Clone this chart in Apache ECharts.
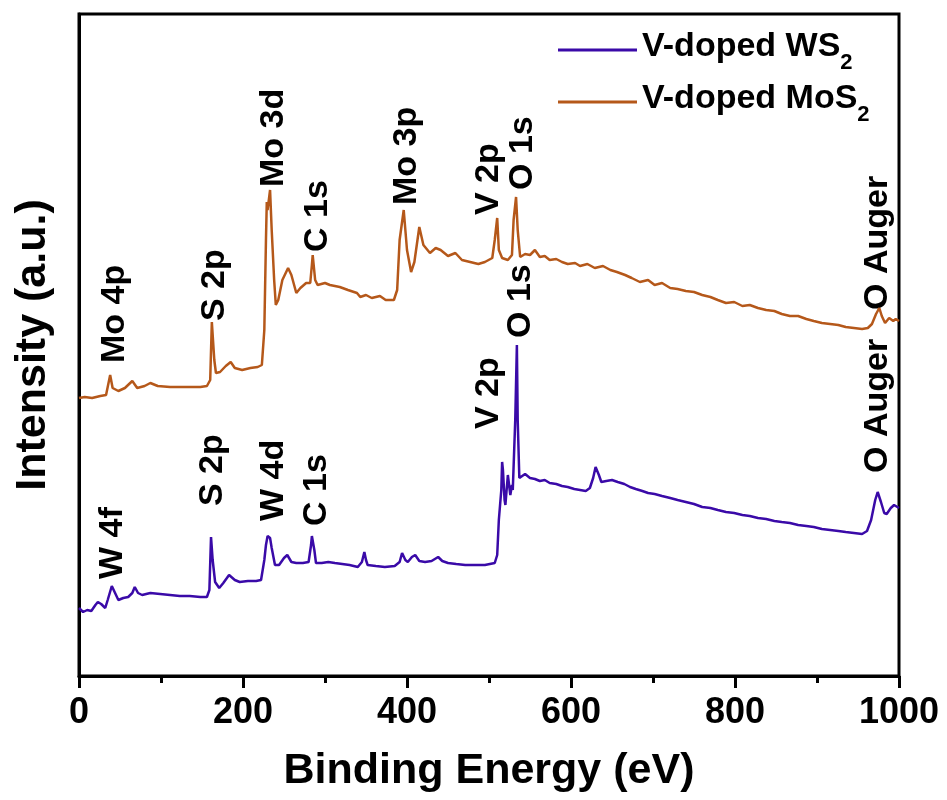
<!DOCTYPE html>
<html>
<head>
<meta charset="utf-8">
<script src="https://cdn.jsdelivr.net/npm/echarts@6/dist/echarts.min.js"></script>
<style>html,body{margin:0;padding:0;background:#fff;}#chart{width:947px;height:800px;}</style>
</head>
<body>
<div id="chart"></div>
<script>
// Binding energy (eV) and intensity (a.u.) — V-doped MoS2
const energyMoS2 = [0,7,16,26,33,38,41,48,56,65,71,80,87,96,111,129,148,156,160,162,165,167,172,179,185,190,199,209,218,223,226,228,229,230,233,235,238,240,243,248,255,259,265,270,277,282,284,285,288,291,300,306,318,328,339,343,350,357,367,374,384,388,391,396,400,405,409,415,420,428,435,441,450,459,467,477,487,495,504,507,510,512,516,523,528,530,533,535,538,544,550,556,562,568,574,582,589,596,605,611,620,629,639,648,656,666,674,684,694,702,711,721,730,740,750,760,770,779,789,799,809,818,828,838,848,857,867,877,887,896,906,916,926,935,945,955,962,967,972,976,979,983,988,993,996,1000];
const intensityMoS2 = [278,279,278,280,281,301,288,285,288,295,288,290,293,290,289,289,289,290,296,354,316,303,304,310,314,308,306,308,309,311,346,436,474,466,486,446,396,371,376,396,408,401,383,388,393,393,411,421,396,391,393,391,389,386,383,379,381,378,380,376,376,386,436,466,426,404,414,449,431,423,428,426,420,423,416,414,412,414,418,436,458,426,418,416,421,456,479,446,419,422,421,426,419,420,416,417,414,412,413,410,412,408,410,406,404,401,398,394,396,391,393,388,387,385,384,381,379,376,373,374,370,371,368,366,365,362,360,360,357,355,353,352,351,349,348,347,348,352,362,368,360,353,358,355,357,355];

// V-doped WS2
const energyWS2 = [0,5,10,15,20,23,27,32,35,40,44,48,54,60,65,68,72,77,87,99,111,123,135,148,156,159,161,163,166,168,171,176,183,190,196,206,216,222,226,228,230,233,235,239,244,250,254,259,265,273,280,283,284,287,289,296,304,312,321,330,340,345,348,350,352,362,373,385,391,394,398,401,406,410,415,422,430,438,443,450,460,471,483,495,507,510,512,515,516,517,519,520,523,526,528,529,532,534,535,537,539,544,550,556,562,568,574,582,589,596,604,611,618,623,627,630,634,637,643,650,657,665,672,679,687,694,702,711,721,730,740,750,760,770,779,789,799,809,818,828,838,848,857,867,877,887,896,906,916,926,935,945,955,961,966,971,974,978,982,985,990,994,998,1000];
const intensityWS2 = [68,64,66,65,71,74,72,68,76,90,83,76,78,79,83,89,83,81,83,82,81,80,80,79,79,86,139,116,94,96,88,93,101,96,94,95,95,96,116,131,140,138,128,111,111,118,121,114,113,113,114,131,140,126,113,113,114,113,112,111,109,114,124,116,111,110,109,110,114,123,116,114,119,121,115,114,115,119,115,113,112,111,111,111,113,121,156,186,214,206,176,171,201,181,191,186,256,331,256,198,199,202,198,197,195,196,193,192,190,189,187,186,185,188,198,209,201,194,195,196,194,192,189,187,185,183,182,180,178,176,174,172,169,168,166,164,163,161,160,158,157,155,154,153,151,150,149,147,146,145,144,143,142,145,156,176,184,174,163,162,168,171,169,168];

// Peak annotations: text, energy (eV), intensity where the label starts
const peakNamesMoS2 = ['Mo 4p','S 2p','Mo 3d','C 1s','Mo 3p','V 2p','O 1s','O Auger'];
const peakEnergyMoS2 = [44,166,237,291,400,499,541,974];
const peakLevelMoS2 = [313,355,489,424,471,461,486,366];
const peakNamesWS2 = ['W 4f','S 2p','W 4d','C 1s','V 2p','O 1s','O Auger'];
const peakEnergyWS2 = [41,163,237,290,499,538,974];
const peakLevelWS2 = [97,170,155,150,247,338,203];

const xTicks = [0,200,400,600,800,1000];

const FONT = "Arial, 'Liberation Sans', sans-serif";
const cWS2 = '#3a0aa8';
const cMoS2 = '#b5581a';

const chart = echarts.init(document.getElementById('chart'), null, {renderer:'canvas'});
const zip = (a,b) => a.map((v,i)=>[v,b[i]]);
const annot = (names, es, ls) => names.map((n,i)=>({value:[es[i], ls[i]], name:n}));

const labelStyle = {
  show: true, position: 'inside', rotate: 90, align: 'left', verticalAlign: 'middle',
  formatter: p => p.name, fontFamily: FONT, fontWeight: 'bold', fontSize: 34, color: '#000',
  textBorderWidth: 0, textBorderColor: 'transparent', opacity: 1
};

chart.setOption({
  animation: false,
  backgroundColor: '#fff',
  grid: {left: 79, right: 48, top: 14, bottom: 124, show: true, borderColor: '#000', borderWidth: 3, containLabel: false},
  legend: {
    orient: 'vertical', left: 553, top: 25, itemWidth: 79, itemHeight: 3, itemGap: 8, icon: 'rect',
    data: ['V-doped WS2', 'V-doped MoS2'],
    formatter: n => n === 'V-doped WS2' ? '{a|V-doped WS}{s|2}' : '{a|V-doped MoS}{s|2}',
    textStyle: {
      fontFamily: FONT, color: '#000', padding: [0,0,0,0],
      rich: {
        a: {fontFamily: FONT, fontWeight: 'bold', fontSize: 34, lineHeight: 40, verticalAlign: 'top', color: '#000'},
        s: {fontFamily: FONT, fontWeight: 'bold', fontSize: 22, lineHeight: 22, padding: [22,0,0,0], verticalAlign: 'top', color: '#000'}
      }
    }
  },
  xAxis: {
    type: 'value', min: 0, max: 1000, interval: 200,
    name: 'Binding Energy (eV)', nameLocation: 'middle', nameGap: 74,
    nameTextStyle: {fontFamily: FONT, fontWeight: 'bold', fontSize: 43, color: '#000'},
    axisLine: {show: true, lineStyle: {color: '#000', width: 3}},
    axisTick: {show: true, inside: false, length: 12, lineStyle: {color: '#000', width: 3}},
    minorTick: {show: true, splitNumber: 2, length: 7, lineStyle: {color: '#000', width: 3}},
    splitLine: {show: false},
    axisLabel: {fontFamily: FONT, fontWeight: 'bold', fontSize: 36, color: '#000', margin: 19,
      formatter: v => xTicks.includes(v) ? String(v) : ''}
  },
  yAxis: {
    type: 'value', min: 0, max: 662,
    name: 'Intensity (a.u.)', nameLocation: 'middle', nameGap: 24,
    nameTextStyle: {fontFamily: FONT, fontWeight: 'bold', fontSize: 43, color: '#000'},
    axisLine: {show: true, lineStyle: {color: '#000', width: 3}},
    axisTick: {show: false}, axisLabel: {show: false}, splitLine: {show: false}
  },
  series: [
    {name: 'V-doped WS2', type: 'line', data: zip(energyWS2, intensityWS2), symbol: 'none', showSymbol: false,
     lineStyle: {color: cWS2, width: 2.5}, itemStyle: {color: cWS2}},
    {name: 'V-doped MoS2', type: 'line', data: zip(energyMoS2, intensityMoS2), symbol: 'none', showSymbol: false,
     lineStyle: {color: cMoS2, width: 2.5}, itemStyle: {color: cMoS2}},
    {name: 'peaksMoS2', type: 'scatter', symbolSize: 0, data: annot(peakNamesMoS2, peakEnergyMoS2, peakLevelMoS2), label: labelStyle, silent: true, itemStyle: {opacity: 1}},
    {name: 'peaksWS2', type: 'scatter', symbolSize: 0, data: annot(peakNamesWS2, peakEnergyWS2, peakLevelWS2), label: labelStyle, silent: true, itemStyle: {opacity: 1}}
  ]
});
</script>
</body>
</html>
